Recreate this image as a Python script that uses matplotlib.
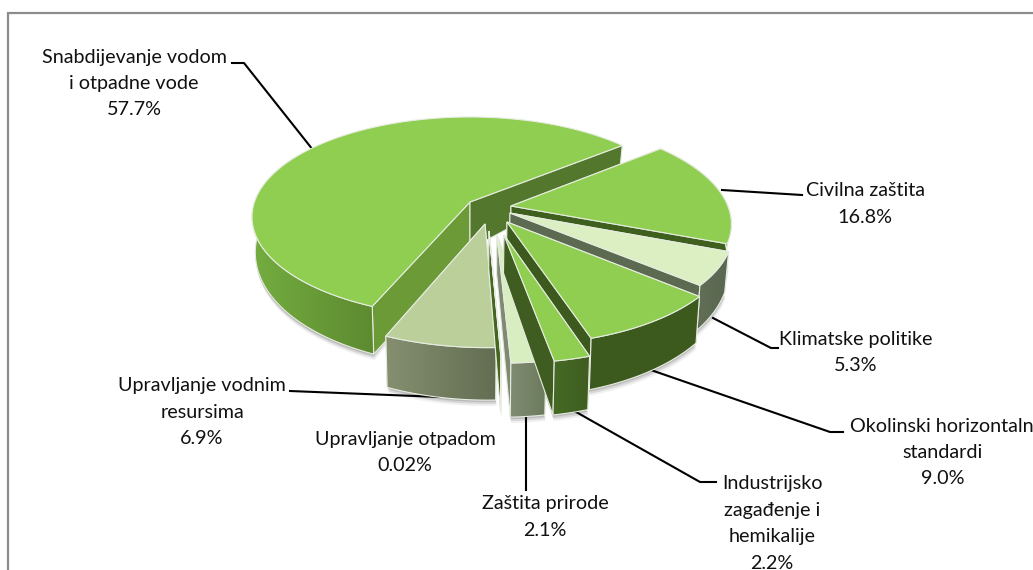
import numpy as np
import matplotlib
matplotlib.use("Agg")
import matplotlib.pyplot as plt
from matplotlib.colors import to_rgb
from matplotlib.patches import Polygon

plt.rcParams["font.family"] = ["Lato", "DejaVu Sans"]

# data (clockwise order, first slice starts at first_angle)
names = ["Civilna zaštita", "Klimatske politike", "Okolinski horizontaln\nstandardi",
         "Industrijsko\nzagađenje i\nhemikalije", "Zaštita prirode", "Upravljanje otpadom",
         "Upravljanje vodnim\nresursima", "Snabdijevanje vodom\ni otpadne vode"]
shares = [16.8, 5.3, 9.0, 2.2, 2.1, 0.02, 6.9, 57.7]

# layout, pixels of the picture
first_angle = 50.7
apex_px = [(511, 206), (510, 213), (507, 222), (504, 235), (497, 235), (489, 231), (485, 224), (470, 202)]
label_x = [865, 856, 943, 772, 545, 405, 202, 134]
label_y = [191, 339, 426, 484, 504, 439, 386, 57]
leaders = [[(722, 190), (802, 195)],
           [(713, 318), (771, 348), (778, 348)],
           [(648, 369), (830, 432), (843, 432)],
           [(569, 408), (700, 482), (716, 482)],
           [(526, 413), (526, 490)],
           [],
           [(290, 391), (440, 397)],
           [(232, 63), (244, 63), (313, 150)]]

top_col = ["#8fce50", "#dcefc3", "#8fce50", "#8fce50", "#d8eec0", "#8fce50", "#bbcf9b", "#8fce50"]
wall_left = ["#466a22", "#626f56", "#3d5a1e", "#466a25", "#808c72", "#44661f", "#858f70", "#74ad40"]
wall_right = ["#3f5f1e", "#5a6650", "#3d5a1e", "#3f5d20", "#6c7a5c", "#44661f", "#626d52", "#5d8a30"]
side_start = ["#3f5f1e", "#5b6a50", "#3d5a1e", "#3f5d20", "#7f8a72", "#44661f", "#626d52", "#6b9a37"]
side_end = ["#3f5f1e", "#5b6a50", "#3d5a1e", "#3f5d20", "#7f8a72", "#44661f", "#626d52", "#53782d"]
draw_order = [7, 0, 1, 2, 6, 5, 4, 3]

# perspective of the pie plane
cx, cy = 470, 202
a, b, p = 215.5, 97.75, 0.15


def project(x, z):
    den = 1 - p * z
    return cx + a * x / den, cy + b * z / den


def unproject(px, py):
    dy = py - cy
    z = dy / (b + p * dy)
    x = (px - cx) * (1 - p * z) / a
    return x, z


def lower(x, z):
    # same point on the underside of the pie
    px, py = project(x, z)
    return cx + (px - cx) * 0.985, py + 33 + 16 * z


def blend(c1, c2, t):
    c1, c2 = np.array(to_rgb(c1)), np.array(to_rgb(c2))
    return np.clip(c1 + (c2 - c1) * t, 0, 1)


fig = plt.figure(figsize=(10.33, 5.70), dpi=100)
ax = fig.add_axes([0, 0, 1, 1])

edge = "#e6ece0"
angles = first_angle + np.cumsum([0] + shares) / sum(shares) * 360

# rims of every slice
slices = []
for i in range(len(shares)):
    ex, ez = unproject(*apex_px[i])
    n = max(2, int((angles[i + 1] - angles[i]) * 1.5))
    th = np.radians(np.linspace(angles[i], angles[i + 1], n))
    slices.append((ex, ez, ex + np.sin(th), ez - np.cos(th), th))

# soft shadow under the pie
for i in range(len(shares)):
    ex, ez, rx, rz, th = slices[i]
    pts = [lower(x, z) for x, z in zip(rx, rz)] + [lower(ex, ez)]
    for dx, dy, alpha in [(0, 2, 0.3), (0.5, 4, 0.2), (1, 6, 0.1)]:
        ax.add_patch(Polygon([(x + dx, y + dy) for x, y in pts], fc="#777777", ec="none", alpha=alpha, zorder=1))

zo = 3
for i in draw_order:
    ex, ez, rx, rz, th = slices[i]
    top = [project(x, z) for x, z in zip(rx, rz)]
    bot = [lower(x, z) for x, z in zip(rx, rz)]
    ap_t, ap_b = project(ex, ez), lower(ex, ez)
    if i == 7:
        # inner corner of the big slice reaches further down
        ap_b = (ap_b[0], ap_b[1] + 14)

    # flat side walls
    ax.add_patch(Polygon([ap_t, top[0], bot[0], ap_b], fc=side_start[i], ec=edge, lw=0.8, zorder=zo))
    ax.add_patch(Polygon([ap_t, top[-1], bot[-1], ap_b], fc=side_end[i], ec=edge, lw=0.8, zorder=zo))

    # outer wall, colour runs from left to right; the far side of the big slice is hidden
    if i == 7:
        keep = np.degrees(th) <= 300
    else:
        keep = np.ones(len(th), dtype=bool)
    wt = [q for q, m in zip(top, keep) if m]
    wb = [q for q, m in zip(bot, keep) if m]
    wall = Polygon(wt + wb[::-1], fc="none", ec=edge, lw=0.8, zorder=zo)
    xs = [q[0] for q in wt + wb]
    ys = [q[1] for q in wt + wb]
    grad = np.array([[blend(wall_left[i], wall_right[i], t) for t in np.linspace(0, 1, 128)]])
    im = ax.imshow(grad, extent=(min(xs), max(xs), max(ys), min(ys)), aspect="auto", zorder=zo)
    ax.add_patch(wall)
    im.set_clip_path(wall)

    # top face
    ax.add_patch(Polygon([ap_t] + top, fc=top_col[i], ec=edge, lw=0.8, zorder=zo))
    zo += 1

# labels and leader lines
for i in range(len(shares)):
    txt = f"{shares[i]:.2f}%" if shares[i] < 0.1 else f"{shares[i]:.1f}%"
    lines = names[i].split("\n") + [txt]
    for j, line in enumerate(lines):
        y = label_y[i] + j * 26.4
        if line.startswith("Okolinski"):
            ax.text(850, y, line, ha="left", va="center", fontsize=14.2, color="#111111", zorder=30)
        else:
            ax.text(label_x[i], y, line, ha="center", va="center", fontsize=14.2, color="#111111", zorder=30)
    if leaders[i]:
        # leaders run under the slices so they stop at the pie edge
        ax.plot([q[0] for q in leaders[i]], [q[1] for q in leaders[i]], color="black", lw=1.5, zorder=2)

# chart frame, cut off by the picture on the right and bottom
ax.plot([8, 8, 1033], [570, 13, 13], color="#8c8c8c", lw=1.6, zorder=40, solid_joinstyle="miter")

ax.set_xlim(0, 1033)
ax.set_ylim(570, 0)
ax.axis("off")

fig.savefig("out.png", dpi=100)
